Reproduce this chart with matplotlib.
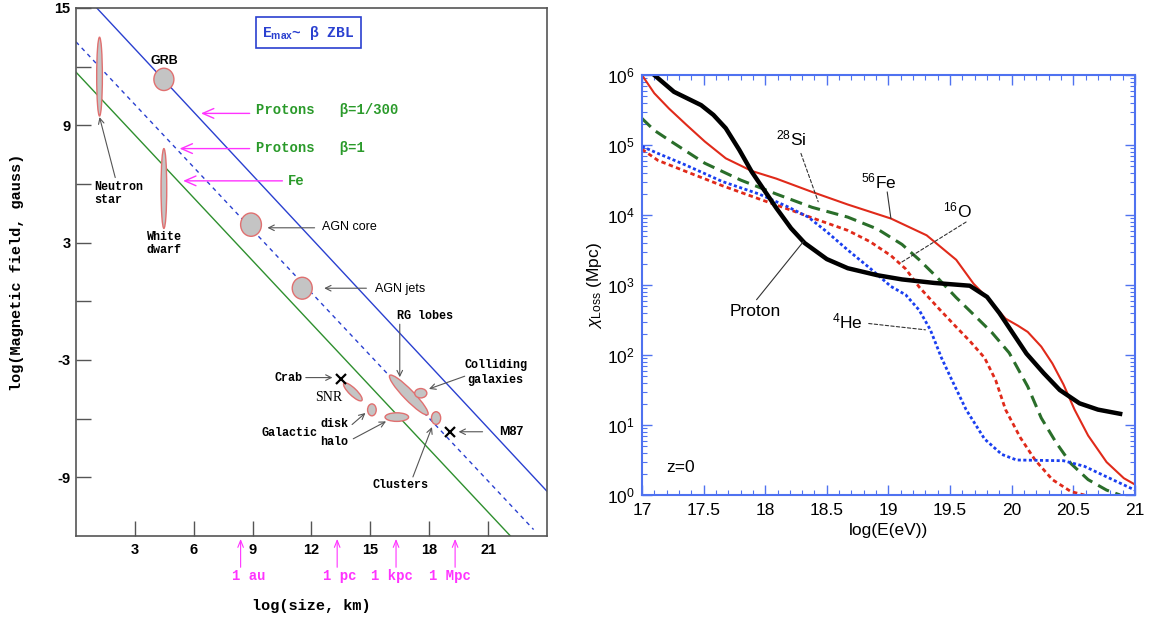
import matplotlib
matplotlib.use('Agg')
import matplotlib.pyplot as plt
from matplotlib.patches import Ellipse
from matplotlib.ticker import MultipleLocator, FuncFormatter, LogLocator, NullFormatter
import numpy as np

plt.rcParams['font.family'] = ['Liberation Sans', 'DejaVu Sans']
plt.rcParams['mathtext.fontset'] = 'custom'
plt.rcParams['mathtext.rm'] = 'Liberation Sans'
plt.rcParams['mathtext.it'] = 'Liberation Sans:italic'
plt.rcParams['mathtext.bf'] = 'Liberation Sans:bold'

MONO = ['Liberation Mono', 'DejaVu Sans Mono']

# ---------------- Hillas plot: log(size, km) vs log(B, gauss) ----------------
fe_line_x = [0.0, 22.14]
fe_line_y = [11.72, -12.0]
p1_line_x = [0.0, 23.32]
p1_line_y = [13.27, -11.67]
p300_line_x = [1.06, 24.0]
p300_line_y = [15.0, -9.71]

src_names = ['Neutron star', 'GRB', 'White dwarf', 'AGN core', 'AGN jets', 'SNR',
             'Galactic disk', 'Galactic halo', 'RG lobes', 'Colliding galaxies', 'Clusters']
src_x = [1.20, 4.48, 4.48, 8.92, 11.53, 14.11, 15.08, 16.35, 16.96, 17.57, 18.35]
src_y = [11.49, 11.35, 5.77, 3.92, 0.67, -4.63, -5.55, -5.92, -4.79, -4.70, -5.97]
src_w = [0.29, 1.02, 0.29, 1.06, 1.02, 1.27, 0.44, 1.20, 2.79, 0.62, 0.47]
src_h = [4.03, 1.14, 4.08, 1.19, 1.12, 0.38, 0.61, 0.44, 0.53, 0.48, 0.65]
src_angle = [0, 0, 0, 0, 0, -44, 0, 0, -46, 0, 0]

point_names = ['Crab', 'M87']
point_x = [13.53, 19.08]
point_y = [-3.97, -6.69]

scale_names = ['1 au', '1 pc', '1 kpc', '1 Mpc']
scale_x = [8.39, 13.31, 16.31, 19.32]
scale_label_x = [8.79, 13.42, 16.11, 19.06]

# ---------------- Energy loss lengths (log E vs chi_loss, Mpc) ----------------
proton_x = [17.10, 17.26, 17.48, 17.58, 17.68, 17.79, 17.89, 17.99, 18.09, 18.21, 18.32, 18.50,
            18.67, 18.91, 19.11, 19.37, 19.66, 19.80, 19.90, 20.01, 20.12, 20.26, 20.39,
            20.55, 20.70, 20.88]
proton_logy = [6.00, 5.76, 5.57, 5.43, 5.24, 4.93, 4.62, 4.36, 4.10, 3.81, 3.60, 3.37,
               3.24, 3.14, 3.08, 3.03, 2.99, 2.83, 2.60, 2.31, 2.02, 1.74, 1.50,
               1.31, 1.22, 1.16]

fe_x = [17.00, 17.10, 17.22, 17.36, 17.51, 17.68, 17.89, 18.09, 18.38, 18.67, 19.02, 19.31,
        19.55, 19.69, 19.81, 19.95, 20.05, 20.13, 20.24, 20.33, 20.42, 20.51, 20.62, 20.77,
        20.91, 21.00]
fe_logy = [6.00, 5.74, 5.52, 5.29, 5.05, 4.81, 4.63, 4.52, 4.33, 4.15, 3.95, 3.71,
           3.36, 3.02, 2.80, 2.52, 2.42, 2.33, 2.12, 1.88, 1.58, 1.22, 0.85, 0.47,
           0.24, 0.15]

si_x = [17.00, 17.10, 17.22, 17.51, 17.80, 18.09, 18.38, 18.67, 18.91, 19.11, 19.25, 19.40,
        19.55, 19.69, 19.84, 19.98, 20.13, 20.24, 20.36, 20.48, 20.62, 20.77, 20.88]
si_logy = [5.38, 5.21, 5.07, 4.74, 4.50, 4.30, 4.11, 3.97, 3.80, 3.58, 3.36, 3.10,
           2.82, 2.58, 2.32, 2.03, 1.55, 1.10, 0.75, 0.45, 0.22, 0.07, 0.00]

o_x = [17.00, 17.13, 17.36, 17.65, 17.95, 18.24, 18.38, 18.67, 18.85, 19.02, 19.14, 19.25,
       19.40, 19.55, 19.66, 19.78, 19.87, 19.95, 20.07, 20.19, 20.33, 20.48, 20.59]
o_logy = [4.94, 4.78, 4.62, 4.42, 4.23, 4.05, 3.96, 3.78, 3.62, 3.42, 3.23, 2.97,
          2.68, 2.40, 2.20, 1.96, 1.64, 1.22, 0.82, 0.50, 0.22, 0.05, 0.00]

he_x = [17.00, 17.13, 17.36, 17.65, 17.95, 18.18, 18.35, 18.50, 18.67, 18.85, 19.02, 19.14,
        19.25, 19.34, 19.43, 19.51, 19.63, 19.78, 19.92, 20.04, 20.42, 20.59, 20.77, 21.00]
he_logy = [4.98, 4.88, 4.71, 4.48, 4.30, 4.12, 3.97, 3.76, 3.50, 3.24, 2.98, 2.86,
           2.64, 2.36, 1.96, 1.66, 1.22, 0.80, 0.58, 0.50, 0.49, 0.41, 0.26, 0.07]

fig = plt.figure(figsize=(11.6, 6.19), dpi=100)

# ======================= left panel =======================
ax = fig.add_axes([0.0655, 0.1341, 0.406, 0.853])
ax.set_xlim(0, 24)
ax.set_ylim(-12, 15)

ax.plot(p300_line_x, p300_line_y, color='#2a40d0', lw=1.0)
ax.plot(p1_line_x, p1_line_y, color='#2a40d0', lw=1.0, ls=(0, (3, 3)))
ax.plot(fe_line_x, fe_line_y, color='#2e8f2e', lw=1.0)

for x, y, w, h, a in zip(src_x, src_y, src_w, src_h, src_angle):
    ax.add_patch(Ellipse((x, y), w, h, angle=a, facecolor='#c4c4c4',
                         edgecolor='#e07070', lw=1.0, zorder=3))
ax.plot(point_x, point_y, ls='none', marker='x', ms=7, mew=1.6, color='black', zorder=4)

gray_arrow = dict(arrowstyle='->', color='#555555', lw=0.8, shrinkA=0, shrinkB=0)
mag_arrow = dict(arrowstyle='->,head_length=0.8,head_width=0.35', color='#ff33ff',
                 lw=1.0, shrinkA=0, shrinkB=0)

mono_bold = dict(family=MONO, fontweight='bold', fontsize=8.5)
sans = dict(fontsize=9)

# line labels
ax.text(9.16, 9.78, 'Protons   β=1/300', color='#2a9a2a', va='center',
        family=MONO, fontweight='bold', fontsize=10)
ax.annotate('', xy=(6.37, 9.61), xytext=(8.85, 9.61), arrowprops=mag_arrow)
ax.text(9.16, 7.84, 'Protons   β=1', color='#2a9a2a', va='center',
        family=MONO, fontweight='bold', fontsize=10)
ax.annotate('', xy=(5.28, 7.81), xytext=(8.85, 7.81), arrowprops=mag_arrow)
ax.text(10.80, 6.16, 'Fe', color='#2a9a2a', va='center',
        family=MONO, fontweight='bold', fontsize=10)
ax.annotate('', xy=(5.46, 6.16), xytext=(10.52, 6.16), arrowprops=mag_arrow)

ax.text(11.85, 13.73, 'E$_{\\mathbf{max}}$~ β ZBL', color='#2a40d0', ha='center',
        va='center', family=MONO, fontweight='bold', fontsize=10.5,
        bbox=dict(boxstyle='square,pad=0.45', facecolor='white', edgecolor='#2a40d0', lw=1.2))

# source labels
ax.text(4.48, 12.31, 'GRB', ha='center', va='center', fontweight='bold', fontsize=9)
ax.text(0.91, 5.5, 'Neutron\nstar', ha='left', va='center', linespacing=1.1, **mono_bold)
ax.annotate('', xy=(1.20, 9.42), xytext=(2.0, 6.33), arrowprops=gray_arrow)
ax.text(3.60, 2.97, 'White\ndwarf', ha='left', va='center', linespacing=1.1, **mono_bold)
ax.text(12.53, 3.80, 'AGN core', ha='left', va='center', **sans)
ax.annotate('', xy=(9.76, 3.76), xytext=(12.16, 3.76), arrowprops=gray_arrow)
ax.text(15.26, 0.62, 'AGN jets', ha='left', va='center', **sans)
ax.annotate('', xy=(12.65, 0.67), xytext=(14.8, 0.67), arrowprops=gray_arrow)
ax.text(16.35, -0.74, 'RG lobes', ha='left', va='center', **mono_bold)
ax.annotate('', xy=(16.5, -3.88), xytext=(16.5, -1.17), arrowprops=gray_arrow)
ax.text(21.39, -3.65, 'Colliding\ngalaxies', ha='center', va='center', linespacing=1.3, **mono_bold)
ax.annotate('', xy=(17.99, -4.48), xytext=(19.81, -3.83), arrowprops=gray_arrow)
ax.text(11.53, -3.90, 'Crab', ha='right', va='center', **mono_bold)
ax.annotate('', xy=(13.07, -3.90), xytext=(11.71, -3.90), arrowprops=gray_arrow)
ax.text(12.86, -4.90, 'SNR', ha='center', va='center', family=['Liberation Serif'], fontsize=10)
ax.text(13.16, -6.26, 'disk', ha='center', va='center', **mono_bold)
ax.annotate('', xy=(14.75, -5.71), xytext=(14.07, -6.30), arrowprops=gray_arrow)
ax.text(10.89, -6.74, 'Galactic', ha='center', va='center', **mono_bold)
ax.text(13.16, -7.20, 'halo', ha='center', va='center', **mono_bold)
ax.annotate('', xy=(15.80, -6.14), xytext=(14.13, -7.03), arrowprops=gray_arrow)
ax.text(22.18, -6.67, 'M87', ha='center', va='center', fontweight='bold', fontsize=9)
ax.annotate('', xy=(19.50, -6.67), xytext=(20.72, -6.67), arrowprops=gray_arrow)
ax.text(16.53, -9.38, 'Clusters', ha='center', va='center', **mono_bold)
ax.annotate('', xy=(18.14, -6.43), xytext=(17.17, -8.98), arrowprops=gray_arrow)

# size scale markers below the axis
for sx, lx, name in zip(scale_x, scale_label_x, scale_names):
    ax.annotate('', xy=(sx, -12.15), xytext=(sx, -13.6), annotation_clip=False,
                arrowprops=dict(arrowstyle='->,head_length=0.5,head_width=0.2',
                                color='#ff33ff', lw=0.8, shrinkA=0, shrinkB=0))
    ax.text(lx, -14.05, name, ha='center', va='center', color='#ff33ff',
            family=MONO, fontweight='bold', fontsize=10, clip_on=False)

ax.set_xticks([3, 6, 9, 12, 15, 18, 21])
ax.set_yticks([-9, -6, -3, 0, 3, 6, 9, 12, 15])
ax.set_yticklabels(['-9', '', '-3', '', '3', '', '9', '', '15'])
ax.tick_params(direction='in', length=11, width=1.0, color='#555555', labelsize=10.5, pad=4)
for lab in ax.get_xticklabels() + ax.get_yticklabels():
    lab.set_fontweight('bold')
ax.tick_params(axis='x', pad=5)
for s in ax.spines.values():
    s.set_color('#555555')
    s.set_linewidth(1.2)
ax.set_xlabel('log(size, km)', family=MONO, fontweight='bold', fontsize=11, labelpad=30)
ax.set_ylabel('log(Magnetic field, gauss)', family=MONO, fontweight='bold', fontsize=11, labelpad=22)

# ======================= right panel =======================
blue = '#4f72f0'
ax2 = fig.add_axes([0.5534, 0.2003, 0.425, 0.6785])
ax2.set_yscale('log')
ax2.set_xlim(17, 21)
ax2.set_ylim(1, 1e6)

ax2.plot(fe_x, 10 ** np.array(fe_logy), color='#e02a1a', lw=1.5)
ax2.plot(si_x, 10 ** np.array(si_logy), color='#2a6e2a', lw=2.2, ls=(0, (4, 2.2)))
ax2.plot(o_x, 10 ** np.array(o_logy), color='#e02a1a', lw=2.0, ls=(0, (1.6, 1.2)))
ax2.plot(he_x, 10 ** np.array(he_logy), color='#1a3ff0', lw=2.0, ls=(0, (1.1, 0.9)))
ax2.plot(proton_x, 10 ** np.array(proton_logy), color='black', lw=3.2)

lead = dict(arrowstyle='-', color='#333333', lw=0.8, shrinkA=0, shrinkB=0)
lead_d = dict(arrowstyle='-', color='#333333', lw=0.8, ls=(0, (3, 2)), shrinkA=0, shrinkB=0)
ax2.text(18.21, 10 ** 5.10, '$^{28}$Si', ha='center', va='center', fontsize=12.5)
ax2.annotate('', xy=(18.43, 10 ** 4.19), xytext=(18.29, 10 ** 4.88), arrowprops=lead_d)
ax2.text(18.92, 10 ** 4.48, '$^{56}$Fe', ha='center', va='center', fontsize=12.5)
ax2.annotate('', xy=(19.02, 10 ** 3.95), xytext=(18.99, 10 ** 4.33), arrowprops=lead)
ax2.text(19.56, 10 ** 4.06, '$^{16}$O', ha='center', va='center', fontsize=12.5)
ax2.annotate('', xy=(19.11, 10 ** 3.33), xytext=(19.63, 10 ** 3.90), arrowprops=lead_d)
ax2.text(17.92, 10 ** 2.62, 'Proton', ha='center', va='center', fontsize=12.5)
ax2.annotate('', xy=(18.31, 10 ** 3.62), xytext=(17.93, 10 ** 2.79), arrowprops=lead)
ax2.text(18.67, 10 ** 2.48, '$^{4}$He', ha='center', va='center', fontsize=12.5)
ax2.annotate('', xy=(19.30, 10 ** 2.36), xytext=(18.84, 10 ** 2.45), arrowprops=lead_d)
ax2.text(17.31, 10 ** 0.39, 'z=0', ha='center', va='center', fontsize=12.5)

ax2.xaxis.set_major_locator(MultipleLocator(0.5))
ax2.xaxis.set_minor_locator(MultipleLocator(0.1))
ax2.xaxis.set_major_formatter(FuncFormatter(lambda v, p: '%g' % v))
ax2.yaxis.set_major_locator(LogLocator(base=10, numticks=10))
ax2.yaxis.set_minor_locator(LogLocator(base=10, subs=np.arange(2, 10), numticks=10))
ax2.yaxis.set_minor_formatter(NullFormatter())
ax2.tick_params(which='both', direction='in', top=True, right=True, color=blue, labelsize=12.5)
ax2.tick_params(which='major', length=7, width=1.0)
ax2.tick_params(which='minor', length=3.5, width=0.8)
ax2.tick_params(axis='x', which='major', pad=6)
ax2.tick_params(axis='y', which='major', pad=5)
for s in ax2.spines.values():
    s.set_color(blue)
    s.set_linewidth(1.5)
ax2.set_xlabel('log(E(eV))', fontsize=12.5, labelpad=3)
ax2.set_ylabel('$\\chi_{\\mathrm{Loss}}$ (Mpc)', fontsize=12.5, labelpad=2)

fig.savefig('out.png', dpi=100)
